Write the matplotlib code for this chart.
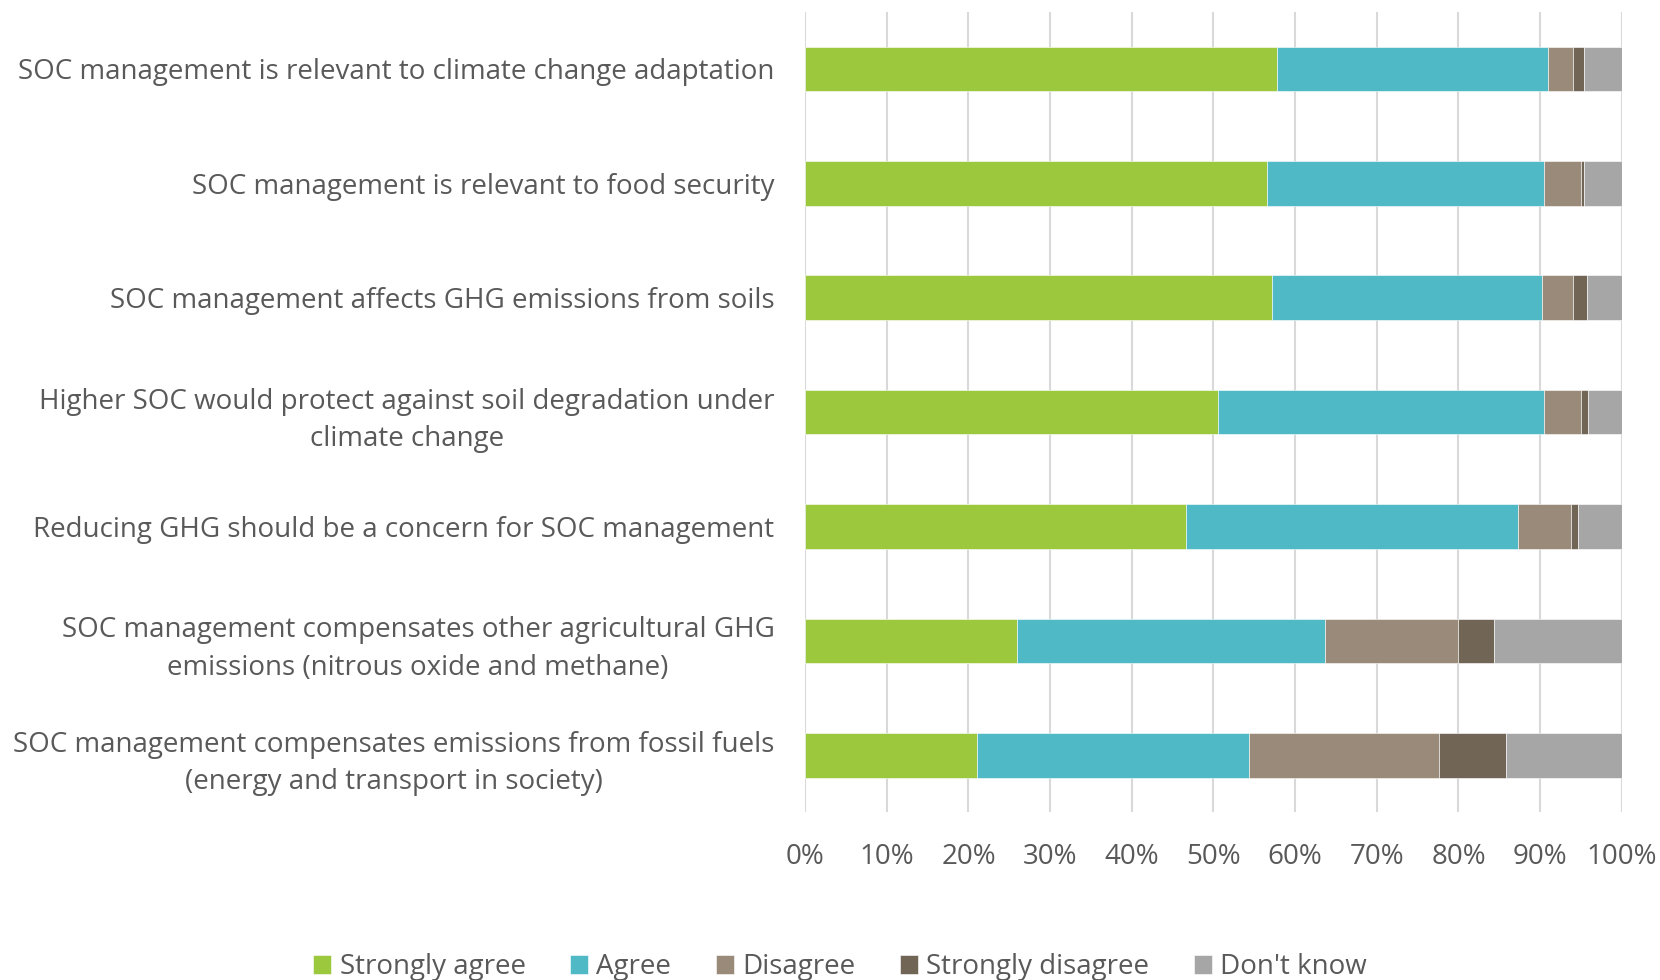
"""
SOC survey: stacked horizontal agreement bars
"""

import matplotlib as mpl
import matplotlib.pyplot as plt
import numpy as np

TEXT = '#595959'
mpl.rcParams['font.family'] = ['Open Sans', 'DejaVu Sans']
mpl.rcParams['text.color'] = TEXT
mpl.rcParams['xtick.color'] = TEXT
mpl.rcParams['ytick.color'] = TEXT

statements = [
    'SOC management is relevant to climate change adaptation',
    'SOC management is relevant to food security',
    'SOC management affects GHG emissions from soils',
    'Higher SOC would protect against soil degradation under\nclimate change',
    'Reducing GHG should be a concern for SOC management',
    'SOC management compensates other agricultural GHG\nemissions (nitrous oxide and methane)',
    'SOC management compensates emissions from fossil fuels\n(energy and transport in society)',
]

# shares in percent, one list per answer, same order as statements
strongly_agree = [57.8, 56.5, 57.2, 50.5, 46.6, 25.9, 21.0]
agree = [33.2, 34.0, 33.0, 40.0, 40.7, 37.8, 33.3]
disagree = [3.0, 4.5, 3.8, 4.5, 6.5, 16.3, 23.3]
strongly_disagree = [1.4, 0.4, 1.7, 0.9, 0.8, 4.3, 8.2]
dont_know = [4.6, 4.6, 4.3, 4.1, 5.4, 15.7, 14.2]

answers = ['Strongly agree', 'Agree', 'Disagree', 'Strongly disagree', "Don't know"]
colors = ['#9BC83C', '#4FB9C5', '#998A79', '#716656', '#A6A6A6']
xticks = np.arange(0, 101, 10)

fig = plt.figure(figsize=(16.6, 9.8), dpi=100)
ax = fig.add_axes([0.485, 0.171, 0.492, 0.817])

y = np.arange(len(statements))
left = np.zeros(len(statements))
for name, vals, col in zip(answers, [strongly_agree, agree, disagree, strongly_disagree, dont_know], colors):
    vals = np.array(vals)
    ax.barh(y, vals, left=left, height=0.39, color=col, label=name,
            edgecolor='white', linewidth=0.4, zorder=2)
    left += vals

ax.set_xlim(0, 100)
ax.set_ylim(len(statements) - 0.5, -0.5)
ax.set_xticks(xticks)
ax.set_xticklabels([f'{t}%' for t in xticks], fontsize=20)
ax.set_yticks(y)
ax.set_yticklabels(statements, fontsize=20)
for lbl in ax.get_yticklabels():
    lbl.set_multialignment('center')
    lbl.set_linespacing(1.45)
ax.tick_params(axis='y', length=0, pad=22)
ax.tick_params(axis='x', length=0, pad=22)

ax.grid(True, axis='x', color='#d9d9d9', linewidth=1.5, zorder=0)
for s in ax.spines.values():
    s.set_visible(False)

fig.legend(loc='center', bbox_to_anchor=(0.506, 0.013), ncol=5, frameon=False,
           fontsize=20, handlelength=0.65, handleheight=0.65, handletextpad=0.3,
           columnspacing=1.6)

fig.savefig('out.png', dpi=100)
